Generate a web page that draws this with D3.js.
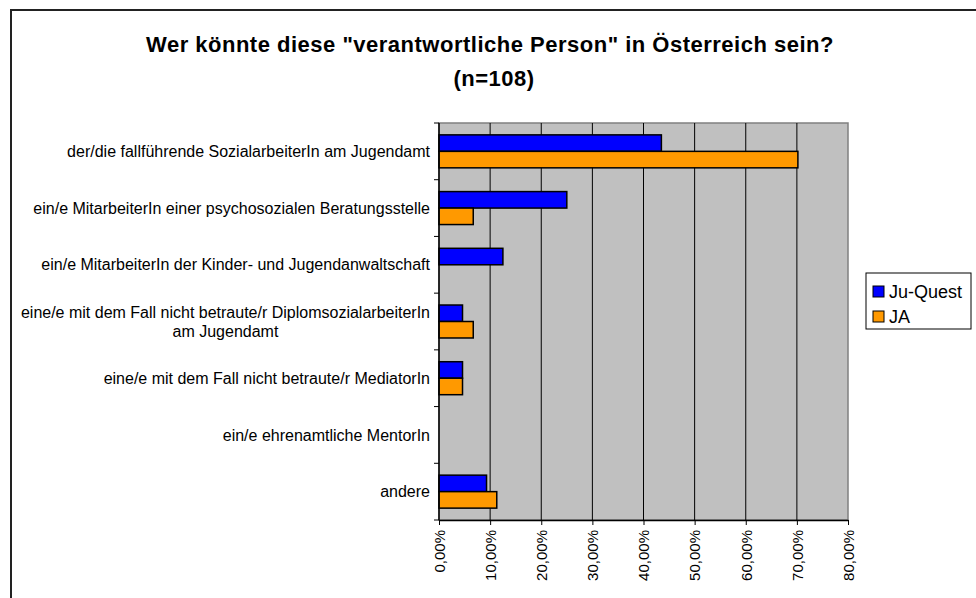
<!DOCTYPE html>
<html lang="de">
<head>
    <meta charset="UTF-8">
    <title>Verantwortliche Person</title>
    <script src="https://d3js.org/d3.v7.min.js"></script>
    <style>
        body { margin: 0; background: white; font-family: "Liberation Sans", Arial, sans-serif; }
        svg { display: block; }
        .cat-label { font-size: 16px; fill: #000; }
        .tick-label { font-size: 15px; fill: #000; }
        .title { font-size: 22px; font-weight: bold; fill: #000; letter-spacing: 0.5px; }
        .legend-label { font-size: 18px; fill: #000; }
    </style>
</head>
<body>
<svg width="976" height="598"></svg>
<script>
    const categories = [
        ["der/die fallführende SozialarbeiterIn am Jugendamt"],
        ["ein/e MitarbeiterIn einer psychosozialen Beratungsstelle"],
        ["ein/e MitarbeiterIn der Kinder- und Jugendanwaltschaft"],
        ["eine/e mit dem Fall nicht betraute/r DiplomsozialarbeiterIn", "am Jugendamt"],
        ["eine/e mit dem Fall nicht betraute/r MediatorIn"],
        ["ein/e ehrenamtliche MentorIn"],
        ["andere"]
    ];
    const seriesNames = ["Ju-Quest", "JA"];
    const juQuest = [0.435, 0.25, 0.125, 0.046, 0.046, 0, 0.093];
    const ja = [0.702, 0.067, 0, 0.067, 0.046, 0, 0.113];
    const xTicks = [0, 0.1, 0.2, 0.3, 0.4, 0.5, 0.6, 0.7, 0.8];
    const xTickLabels = ["0,00%", "10,00%", "20,00%", "30,00%", "40,00%", "50,00%", "60,00%", "70,00%", "80,00%"];
    const colors = ["#0000ff", "#ff9900"];

    const svg = d3.select("svg");
    const plot = { left: 439, right: 848, top: 123, bottom: 520 };

    // outer frame (cut off at the right and bottom like the source)
    svg.append("rect")
        .attr("x", 11).attr("y", 10)
        .attr("width", 1000).attr("height", 700)
        .attr("fill", "white").attr("stroke", "#222").attr("stroke-width", 2);

    svg.append("text").attr("class", "title")
        .attr("x", 490).attr("y", 52).attr("text-anchor", "middle")
        .text("Wer könnte diese \"verantwortliche Person\" in Österreich sein?");
    svg.append("text").attr("class", "title")
        .attr("x", 494).attr("y", 86).attr("text-anchor", "middle")
        .text("(n=108)");

    const keys = categories.map((c, i) => i);
    const y0 = d3.scaleBand().domain(keys).range([plot.top, plot.bottom]).padding(0);
    const y1 = d3.scaleBand().domain(seriesNames).range([0, y0.bandwidth()])
        .paddingInner(0).paddingOuter(0.72);
    const x = d3.scaleLinear().domain([0, 0.8]).range([plot.left, plot.right]);

    // plot background
    svg.append("rect")
        .attr("x", plot.left).attr("y", plot.top)
        .attr("width", plot.right - plot.left).attr("height", plot.bottom - plot.top)
        .attr("fill", "#c0c0c0").attr("stroke", "#808080").attr("stroke-width", 1.5);

    // vertical gridlines
    svg.append("g").selectAll("line")
        .data(xTicks.filter(t => t > 0 && t < 0.8))
        .enter().append("line")
        .attr("x1", d => x(d)).attr("x2", d => x(d))
        .attr("y1", plot.top).attr("y2", plot.bottom)
        .attr("stroke", "#000").attr("stroke-width", 1);

    // bars
    const rows = keys.map(i => [
        { s: seriesNames[0], v: juQuest[i], c: colors[0] },
        { s: seriesNames[1], v: ja[i], c: colors[1] }
    ]);
    svg.append("g").selectAll("g")
        .data(rows)
        .enter().append("g")
        .attr("transform", (d, i) => `translate(0,${y0(i)})`)
        .selectAll("rect")
        .data(d => d.filter(b => b.v > 0))
        .enter().append("rect")
        .attr("x", x(0))
        .attr("y", d => y1(d.s))
        .attr("width", d => x(d.v) - x(0))
        .attr("height", y1.bandwidth())
        .attr("fill", d => d.c)
        .attr("stroke", "#000").attr("stroke-width", 1.5);

    // x axis
    const xAxis = svg.append("g")
        .attr("transform", `translate(0,${plot.bottom})`)
        .call(d3.axisBottom(x).tickValues(xTicks)
            .tickFormat((d, i) => xTickLabels[i]).tickSize(5).tickSizeOuter(0));
    xAxis.select(".domain").attr("stroke", "#000").attr("stroke-width", 1.5);
    xAxis.selectAll(".tick line").attr("stroke", "#000");
    xAxis.selectAll("text")
        .attr("class", "tick-label")
        .attr("font-family", null).attr("font-size", null)
        .attr("transform", "rotate(-90)")
        .attr("text-anchor", "end")
        .attr("x", -10).attr("y", 0).attr("dy", "0.35em");

    // y axis line and tick marks between categories
    const yAxis = svg.append("g");
    yAxis.append("line")
        .attr("x1", plot.left).attr("x2", plot.left)
        .attr("y1", plot.top).attr("y2", plot.bottom)
        .attr("stroke", "#000").attr("stroke-width", 1.5);
    yAxis.selectAll(".tk")
        .data(keys.map(i => y0(i)).concat([plot.bottom]))
        .enter().append("line")
        .attr("x1", plot.left - 5).attr("x2", plot.left)
        .attr("y1", d => d).attr("y2", d => d)
        .attr("stroke", "#000");

    // category labels: block right-aligned, lines centred within the block
    const labels = svg.append("g").selectAll("text")
        .data(categories)
        .enter().append("text")
        .attr("class", "cat-label")
        .attr("text-anchor", "middle")
        .each(function (lines, i) {
            const t = d3.select(this);
            const cy = y0(i) + y0.bandwidth() / 2;
            const lh = 19;
            lines.forEach((l, j) => {
                t.append("tspan")
                    .attr("y", cy + (j - (lines.length - 1) / 2) * lh)
                    .attr("dy", "0.35em")
                    .text(l);
            });
        });
    labels.each(function () {
        const tspans = d3.select(this).selectAll("tspan");
        let maxW = 0;
        tspans.each(function () { maxW = Math.max(maxW, this.getComputedTextLength()); });
        tspans.attr("x", 430 - maxW / 2);
    });

    // legend
    const legend = svg.append("g").attr("transform", "translate(866,273)");
    legend.append("rect")
        .attr("width", 105).attr("height", 56)
        .attr("fill", "white").attr("stroke", "#000").attr("stroke-width", 1);
    seriesNames.forEach((s, i) => {
        legend.append("rect")
            .attr("x", 7).attr("y", 13 + i * 25)
            .attr("width", 11).attr("height", 11)
            .attr("fill", colors[i]).attr("stroke", "#000");
        legend.append("text").attr("class", "legend-label")
            .attr("x", 23).attr("y", 19 + i * 25).attr("dy", "0.35em")
            .text(s);
    });
</script>
</body>
</html>
